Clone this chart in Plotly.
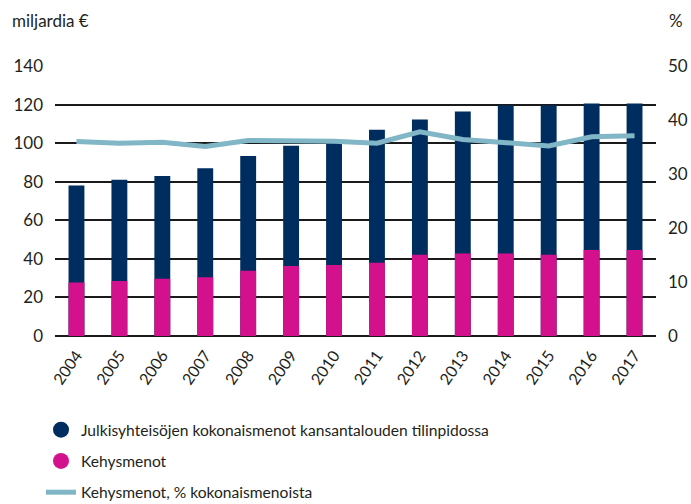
import plotly.graph_objects as go

years = ["2004", "2005", "2006", "2007", "2008", "2009", "2010",
         "2011", "2012", "2013", "2014", "2015", "2016", "2017"]
total_spending = [78, 81, 83, 87, 93.3, 98.6, 101.5, 107, 112.3, 116.4, 119.7, 119.7, 120.6, 120.6]
frame_spending = [27.8, 28.5, 29.7, 30.4, 33.8, 36.3, 36.8, 38, 42.1, 42.8, 42.8, 42.1, 44.6, 44.6]
frame_share = [36.0, 35.7, 35.9, 35.1, 36.2, 36.2, 36.05, 35.7, 37.8, 36.4, 35.9, 35.2, 36.9, 37.1]

name_total = "Julkisyhteisöjen kokonaismenot kansantalouden tilinpidossa"
name_frame = "Kehysmenot"
name_share = "Kehysmenot, % kokonaismenoista"

NAVY = "#002d5f"
MAGENTA = "#d4118c"
LIGHTBLUE = "#80b6c6"
TXT = "#231f20"
FONT = "Lato"

fig = go.Figure()
fig.add_trace(go.Bar(x=years, y=total_spending, marker_color=NAVY, name=name_total,
                     showlegend=False, marker_line_width=0))
fig.add_trace(go.Bar(x=years, y=frame_spending, marker_color=MAGENTA, name=name_frame,
                     showlegend=False, marker_line_width=0))
fig.add_trace(go.Scatter(x=years, y=frame_share, yaxis="y2", mode="lines",
                         line=dict(color=LIGHTBLUE, width=5), name=name_share, showlegend=False))

# legend entries
fig.add_trace(go.Scatter(x=[None], y=[None], mode="markers", name=name_total, legendgroup="a",
                         marker=dict(symbol="circle", size=16, color=NAVY)))
fig.add_trace(go.Scatter(x=[None], y=[None], mode="markers", name=name_frame, legendgroup="b",
                         marker=dict(symbol="circle", size=16, color=MAGENTA)))
fig.add_trace(go.Scatter(x=[None], y=[None], mode="lines", name=name_share, legendgroup="c",
                         line=dict(color=LIGHTBLUE, width=5)))

fig.update_layout(
    width=691, height=504,
    margin=dict(l=55, r=35, t=66, b=168, autoexpand=False),
    paper_bgcolor="white", plot_bgcolor="white",
    barmode="overlay", bargap=0.63,
    font=dict(family=FONT, size=17, color=TXT),
    xaxis=dict(tickangle=-55, showgrid=False, showline=False, ticks="", ticklen=0,
               ticklabelstandoff=6, tickfont=dict(size=16, color=TXT)),
    yaxis=dict(range=[0, 140], dtick=20, showgrid=True, gridcolor="#1a1a1a", gridwidth=1.5,
               zeroline=True, zerolinecolor="#1a1a1a", zerolinewidth=1.5,
               showline=False, ticks="", ticklen=0, ticklabelstandoff=11,
               tickfont=dict(size=17, color=TXT)),
    yaxis2=dict(range=[0, 50], dtick=10, overlaying="y", side="right", showgrid=False,
                zeroline=False, showline=False, ticks="", ticklen=0, ticklabelstandoff=11,
                tickfont=dict(size=17, color=TXT)),
    legend=dict(xref="container", yref="container", x=41 / 691, xanchor="left",
                y=1 - 413 / 504, yanchor="top",
                font=dict(size=15.6, color=TXT), tracegroupgap=8, itemwidth=30),
    annotations=[
        dict(text="miljardia €", xref="paper", yref="paper", x=-45 / 601, y=1.167,
             xanchor="left", yanchor="middle", showarrow=False, font=dict(size=17, color=TXT)),
        dict(text="%", xref="paper", yref="paper", x=1 + 11 / 601, y=1.167,
             xanchor="left", yanchor="middle", showarrow=False, font=dict(size=17, color=TXT)),
    ],
)

fig.write_html("out.html", config={"displayModeBar": False},
               post_script="document.body.style.margin='0';")
